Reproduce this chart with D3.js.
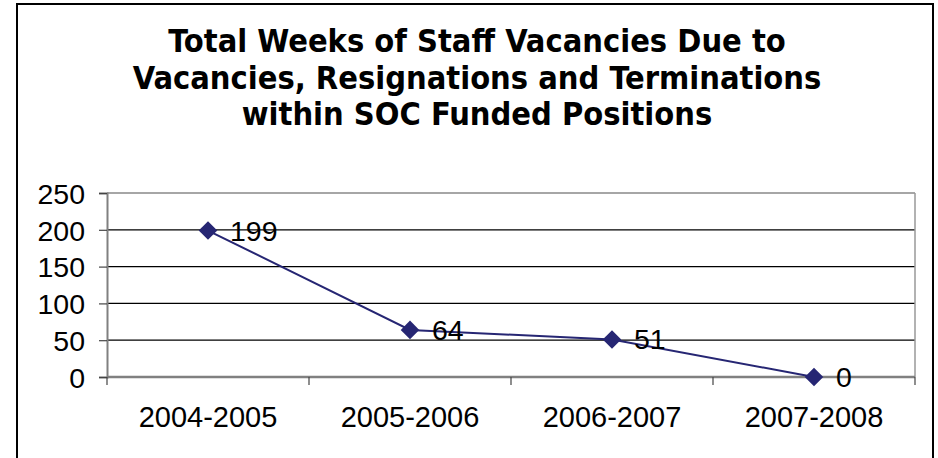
<!DOCTYPE html>
<html><head><meta charset="utf-8">
<script src="https://cdn.jsdelivr.net/npm/d3@7"></script>
<style>body{margin:0;background:#fff}svg{display:block}</style>
</head><body>
<svg id="c" width="938" height="458"></svg>
<script>
const categories = ["2004-2005","2005-2006","2006-2007","2007-2008"];
const values = [199, 64, 51, 0];
const yTicks = [0, 50, 100, 150, 200, 250];
const titleLines = ["Total Weeks of Staff Vacancies Due to","Vacancies, Resignations and Terminations","within SOC Funded Positions"];

const svg = d3.select("#c");
svg.append("rect").attr("x",17).attr("y",4).attr("width",916).attr("height",480)
  .attr("fill","#fff").attr("stroke","#000").attr("stroke-width",2);

const L = 107, R = 915, T = 193, B = 377;
const x = d3.scaleBand().domain(categories).range([L, R]);
const y = d3.scaleLinear().domain([0, 250]).range([B, T]);

// title
const title = svg.append("text").attr("text-anchor","middle")
  .attr("font-family","'DejaVu Sans Condensed','DejaVu Sans',sans-serif").attr("font-weight","bold")
  .attr("font-size",32.3).attr("fill","#000");
titleLines.forEach((t,i)=>title.append("tspan").attr("x",477).attr("y",52+i*36.7).text(t));

// gridlines
svg.append("g").selectAll("line").data(yTicks.filter(v=>v>0 && v<250)).join("line")
  .attr("x1",L).attr("x2",R).attr("y1",d=>y(d)).attr("y2",d=>y(d))
  .attr("stroke","#000").attr("stroke-width",1.2);
svg.append("line").attr("x1",L).attr("x2",R).attr("y1",y(250)).attr("y2",y(250)).attr("stroke","#888").attr("stroke-width",1.5);
svg.append("line").attr("x1",R).attr("x2",R).attr("y1",T).attr("y2",B).attr("stroke","#999").attr("stroke-width",1.5);

// y axis
const ya = svg.append("g").attr("transform",`translate(${L},0)`)
  .call(d3.axisLeft(y).tickValues(yTicks).tickSize(8).tickPadding(14).tickFormat(d3.format("d")));
ya.select(".domain").attr("stroke","#808080").attr("stroke-width",2);
ya.selectAll(".tick line").attr("stroke","#444").attr("stroke-width",1.2);
ya.selectAll("text").attr("font-family","Arial,'Liberation Sans',sans-serif").attr("font-size",28.5).attr("fill","#000").attr("dy","0.36em");

// x axis
const xa = svg.append("g").attr("transform",`translate(0,${B})`);
xa.append("line").attr("x1",L).attr("x2",R).attr("stroke","#808080").attr("stroke-width",2.5);
const bounds = categories.map(c=>x(c)).concat([x(categories[categories.length-1])+x.bandwidth()]);
xa.selectAll("line.tk").data(bounds).join("line").attr("class","tk")
  .attr("x1",d=>d).attr("x2",d=>d).attr("y1",0).attr("y2",8).attr("stroke","#444").attr("stroke-width",1.2);
xa.selectAll("text").data(categories).join("text")
  .attr("x",d=>x(d)+x.bandwidth()/2).attr("y",50).attr("text-anchor","middle")
  .attr("font-family","Arial,'Liberation Sans',sans-serif").attr("font-size",29).attr("fill","#000").text(d=>d);

// line
const color = "#262673";
const pts = categories.map((c,i)=>({c, v:values[i], px:x(c)+x.bandwidth()/2, py:y(values[i])}));
svg.append("path").datum(pts).attr("fill","none").attr("stroke",color).attr("stroke-width",2)
  .attr("d", d3.line().x(d=>d.px).y(d=>d.py));
svg.append("g").selectAll("path").data(pts).join("path")
  .attr("transform",d=>`translate(${d.px},${d.py})`)
  .attr("d",d3.symbol().type(d3.symbolDiamond2).size(220)).attr("fill",color);
svg.append("g").selectAll("text").data(pts).join("text")
  .attr("x",d=>d.px+22).attr("y",d=>d.py+10)
  .attr("font-family","Arial,'Liberation Sans',sans-serif").attr("font-size",28.5).attr("fill","#000").text(d=>d.v);
</script>
</body></html>
